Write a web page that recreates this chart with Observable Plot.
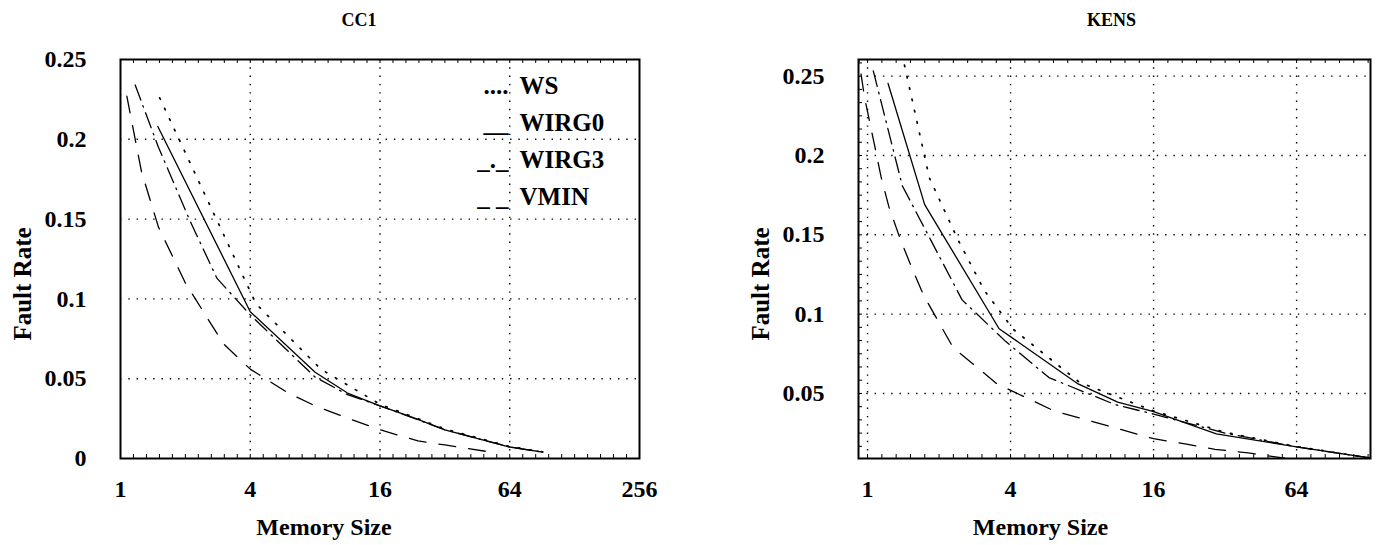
<!DOCTYPE html>
<html><head><meta charset="utf-8">
<script src="https://cdn.jsdelivr.net/npm/d3@7"></script>
<script src="https://cdn.jsdelivr.net/npm/@observablehq/plot@0.6"></script>
<style>
body{margin:0;background:#fff;}
#wrap{position:relative;width:1377px;height:545px;overflow:hidden;}
#wrap svg{position:absolute;top:0;}
</style></head><body><div id="wrap"></div>
<script>
// ---------- data ----------
const seriesNames = ["WS", "WIRG0", "WIRG3", "VMIN"];
const legendSymbols = ["....", "__", "_._", "_ _"];

// CC1
const cc1WsX    = [1.52, 4.25, 8.5, 16, 32, 64, 91];
const cc1WsY    = [0.226, 0.097, 0.056, 0.034, 0.0185, 0.0075, 0.0042];
const cc1Wirg0X = [1.49, 4, 8, 11.3, 16, 23, 32, 64, 91];
const cc1Wirg0Y = [0.208, 0.092, 0.054, 0.041, 0.033, 0.0255, 0.018, 0.0072, 0.004];
const cc1Wirg3X = [1.17, 1.5, 2.1, 2.8, 4, 8, 11.3, 16, 32, 64, 91];
const cc1Wirg3Y = [0.234, 0.195, 0.149, 0.113, 0.09, 0.051, 0.040, 0.033, 0.018, 0.0072, 0.004];
const cc1VminX  = [1.07, 1.25, 1.5, 2, 3, 4, 6, 8, 12, 16, 24, 32, 50];
const cc1VminY  = [0.227, 0.18, 0.145, 0.11, 0.072, 0.056, 0.041, 0.033, 0.024, 0.018, 0.011, 0.0085, 0.0044];

// KENS
const kensWsX    = [1.43, 1.82, 2.4, 3.1, 4.1, 7.8, 16, 32, 64, 131];
const kensWsY    = [0.257, 0.186, 0.147, 0.115, 0.0905, 0.057, 0.039, 0.0255, 0.0165, 0.0093];
const kensWirg0X = [1.22, 1.74, 3.58, 7.7, 11.3, 16, 29.4, 64, 131];
const kensWirg0Y = [0.2454, 0.169, 0.0908, 0.056, 0.0445, 0.0385, 0.0245, 0.0163, 0.0093];
const kensWirg3X = [1.057, 1.4, 2.5, 3.8, 5.8, 11, 16, 32, 64, 131];
const kensWirg3Y = [0.2533, 0.181, 0.109, 0.083, 0.06, 0.043, 0.037, 0.025, 0.0163, 0.0093];
const kensVminX  = [0.9, 0.97, 1.07, 1.14, 1.23, 1.37, 1.53, 1.72, 2.29, 3.51, 6.1, 11.5, 16, 22, 29, 40, 55, 80];
const kensVminY  = [0.27, 0.237, 0.2065, 0.1865, 0.1676, 0.1477, 0.1298, 0.112, 0.079, 0.056, 0.039, 0.0275, 0.0215, 0.018, 0.0148, 0.0125, 0.0095, 0.007];

// axes
const cc1XTicks  = [1, 4, 16, 64, 256];
const cc1YTicks  = [0, 0.05, 0.1, 0.15, 0.2, 0.25];
const kensXTicks = [1, 4, 16, 64];
const kensYTicks = [0.05, 0.1, 0.15, 0.2, 0.25];

// ---------- drawing ----------
const FONT = "'Liberation Serif','Times New Roman',Times,serif";
const lineStyle = {
  WS:    {strokeDasharray: "1.6,10", strokeWidth: 1.7, strokeLinecap: "round"},
  WIRG0: {strokeWidth: 1.3},
  WIRG3: {strokeDasharray: "16,6,1.6,6", strokeWidth: 1.3},
  VMIN:  {strokeDasharray: "17,13", strokeWidth: 1.3}
};
const rows = (s, xs, ys) => xs.map((x, i) => ({series: s, x, y: ys[i]}));

function chart({title, series, xDomain, yDomain, xTicks, yTicks, width, mL, mR, legend, yMinor, titleDx, xLabelDx}) {
  const mT = 59, mB = 87, H = 545;
  const innerW = width - mL - mR, innerH = H - mT - mB;
  const lx0 = Math.log(xDomain[0]) / Math.log(4), lx1 = Math.log(xDomain[1]) / Math.log(4);
  const minorX = d3.range(Math.ceil(lx0 * 10), Math.floor(lx1 * 10) + 1).map(k => Math.pow(4, k / 10));
  const grid = {stroke: "black", strokeWidth: 1.4, strokeDasharray: "1.4,6.9"};
  const marks = [
    Plot.ruleX(xTicks.filter(v => v > xDomain[0] && v < xDomain[1]), {x: d => d, ...grid}),
    Plot.ruleY(yTicks.filter(v => v > yDomain[0] && v < yDomain[1]), {y: d => d, ...grid}),
    Plot.ruleX(minorX, {x: d => d, insetTop: innerH - 4, strokeWidth: 1}),
    Plot.ruleX(minorX, {x: d => d, insetBottom: innerH - 4, strokeWidth: 1})
  ];
  if (yMinor) {
    const ys = d3.range(Math.ceil(yDomain[0] / yMinor), Math.floor(yDomain[1] / yMinor) + 1).map(k => k * yMinor);
    marks.push(Plot.ruleY(ys, {y: d => d, insetRight: innerW - 4, strokeWidth: 1}));
  }
  for (const s of series) {
    marks.push(Plot.line(s.data, {x: "x", y: "y", stroke: "black", clip: true, ...lineStyle[s.name]}));
  }
  marks.push(Plot.frame({stroke: "black", strokeWidth: 2}));
  const T = {text: d => d, textAnchor: "middle", lineAnchor: "middle", fontWeight: "bold"};
  marks.push(Plot.text([title], {...T, frameAnchor: "top", dx: titleDx, dy: -39, fontSize: 18}));
  marks.push(Plot.text(["Memory Size"], {...T, frameAnchor: "bottom", dx: xLabelDx, dy: 69, fontSize: 24}));
  marks.push(Plot.text(["Fault Rate"], {...T, frameAnchor: "left", dx: -98, dy: 25, rotate: -90, fontSize: 25}));
  if (legend) {
    seriesNames.forEach((name, i) => {
      marks.push(Plot.text([legendSymbols[i]], {...T, frameAnchor: "top-right", textAnchor: "end", dx: -131, dy: 26 + i * 37, fontSize: 25}));
      marks.push(Plot.text([name], {...T, frameAnchor: "top-right", textAnchor: "start", dx: -120, dy: 26 + i * 37, fontSize: 25}));
    });
  }
  return Plot.plot({
    width, height: H,
    marginLeft: mL, marginRight: mR, marginTop: mT, marginBottom: mB,
    style: {fontFamily: FONT, fontWeight: "bold", fontSize: "24px", color: "black", background: "white", overflow: "visible"},
    x: {type: "log", base: 4, domain: xDomain, ticks: xTicks, tickFormat: d => String(d), tickSize: 0, tickPadding: 21, label: null},
    y: {domain: yDomain, ticks: yTicks, tickFormat: d => String(d), tickSize: 0, tickPadding: 34, label: null},
    marks
  });
}

const wrap = document.getElementById("wrap");
const left = chart({
  title: "CC1",
  series: [
    {name: "WS", data: rows("WS", cc1WsX, cc1WsY)},
    {name: "WIRG0", data: rows("WIRG0", cc1Wirg0X, cc1Wirg0Y)},
    {name: "WIRG3", data: rows("WIRG3", cc1Wirg3X, cc1Wirg3Y)},
    {name: "VMIN", data: rows("VMIN", cc1VminX, cc1VminY)}
  ],
  xDomain: [1, 256], yDomain: [0, 0.25], xTicks: cc1XTicks, yTicks: cc1YTicks,
  width: 689, mL: 120, mR: 50, legend: true, titleDx: -21, xLabelDx: -56
});
left.style.left = "0px";
wrap.appendChild(left);

const right = chart({
  title: "KENS",
  series: [
    {name: "WS", data: rows("WS", kensWsX, kensWsY)},
    {name: "WIRG0", data: rows("WIRG0", kensWirg0X, kensWirg0Y)},
    {name: "WIRG3", data: rows("WIRG3", kensWirg3X, kensWirg3Y)},
    {name: "VMIN", data: rows("VMIN", kensVminX, kensVminY)}
  ],
  xDomain: [0.916, 131], yDomain: [0.009, 0.2605], xTicks: kensXTicks, yTicks: kensYTicks,
  width: 688, mL: 169, mR: 7, legend: false, yMinor: 0.05 / 6, titleDx: -3, xLabelDx: -74
});
right.style.left = "689px";
wrap.appendChild(right);
</script>
</body></html>
